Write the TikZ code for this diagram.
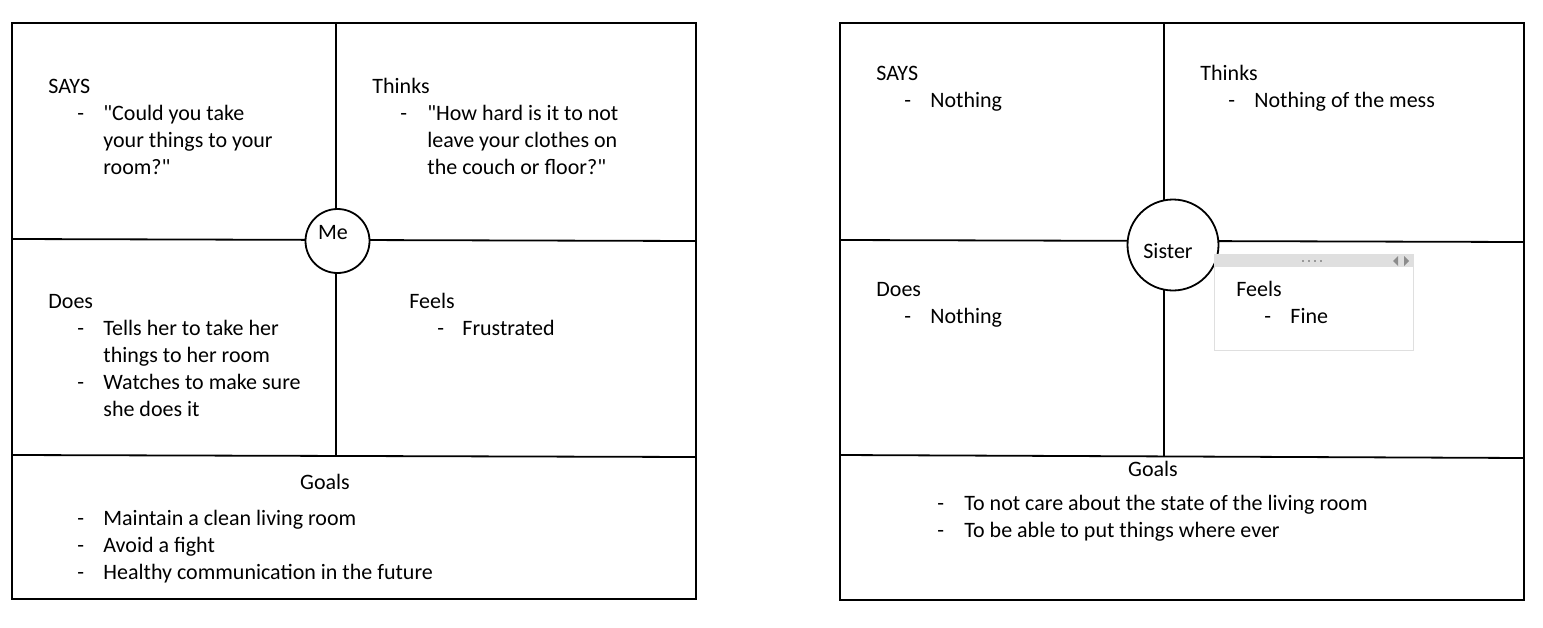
\documentclass[tikz,border=0pt]{standalone}
\usepackage{fontspec}
\setmainfont{Carlito}[Ligatures=TeXOff]
\begin{document}
\begin{tikzpicture}[
  x=0.5pt, y=-0.5pt,
  grid/.style={line width=0.9pt},
  hub/.style={circle, draw, line width=0.9pt, fill=white, inner sep=0pt},
  txt/.style={inner sep=0pt, anchor=north west, yshift=9.45pt, align=left},
  bul/.style={inner sep=0pt, anchor=base west},
  font=\fontsize{11}{13.5}\selectfont
]
\useasboundingbox (0,0) rectangle (1543,627);

% left map: Me
\draw[grid] (12,23) rectangle (696,599);
\draw[grid] (336,23) -- (336,456);
\draw[grid] (12,239) -- (696,241);
\draw[grid] (12,455) -- (696,457);
\node[hub, minimum size=32pt] (me) at (337.5,241) {};
\node (metxt) at (333,233) {Me};

\node[txt] (says0) at (48,93) {\strut SAYS};
\node[bul] at (77,120) {-};
\node[txt] (sayit0) at (103,120) {\strut"Could you take\\your things to your\\room?"};

\node[txt] (thinks0) at (372,93) {\strut Thinks};
\node[bul] at (400,120) {-};
\node[txt] (thinkit0) at (427,120) {\strut"How hard is it to not\\leave your clothes on\\the couch or floor?"};

\node[txt] (does0) at (48,308) {\strut Does};
\node[bul] at (77,335) {-};
\node[txt] (doit0) at (103,335) {\strut Tells her to take her\\things to her room};
\node[bul] at (77,389) {-};
\node[txt] (doitb0) at (103,389) {\strut Watches to make sure\\she does it};

\node[txt] (feels0) at (409,308) {\strut Feels};
\node[bul] at (437,335) {-};
\node[txt] (feelit0) at (462,335) {\strut Frustrated};

\node[inner sep=0pt, anchor=base] (goals0) at (325,489) {Goals};
\node[bul] at (77,525) {-};
\node[txt] (goala0) at (103,525) {\strut Maintain a clean living room};
\node[bul] at (77,552) {-};
\node[txt] (goalb0) at (103,552) {\strut Avoid a fight};
\node[bul] at (77,579) {-};
\node[txt] (goalc0) at (103,579) {\strut Healthy communication in the future};

% right map: Sister
\draw[grid] (840,23) rectangle (1524,600);
\draw[grid] (1164,23) -- (1164,456);
\draw[grid] (840,240) -- (1524,242);
\draw[grid] (840,455) -- (1524,458);
\node[hub, minimum size=45.5pt] (sister) at (1173,245) {};
\node (sistertxt) at (1168,251) {Sister};

\node[txt] (says1) at (876,80) {\strut SAYS};
\node[bul] at (904,107) {-};
\node[txt] (sayit1) at (930,107) {\strut Nothing};

\node[txt] (thinks1) at (1200,80) {\strut Thinks};
\node[bul] at (1228,107) {-};
\node[txt] (thinkit1) at (1254,107) {\strut Nothing of the mess};

\node[txt] (does1) at (876,296) {\strut Does};
\node[bul] at (904,323) {-};
\node[txt] (doit1) at (930,323) {\strut Nothing};

% text box frame round Feels
\draw[gray!25, fill=white] (1214,254) rectangle (1413,350);
\fill[gray!25] (1214,254) rectangle (1413,267);
\foreach \x in {1303,1309,1315,1321}
  \fill[gray!80] (\x-1,260) rectangle +(2,2);
\fill[gray!90] (1398,256) -- (1398,266) -- (1393,261) -- cycle;
\fill[gray!90] (1404,256) -- (1404,266) -- (1409,261) -- cycle;

\node[txt] (feels1) at (1236,296) {\strut Feels};
\node[bul] at (1264,323) {-};
\node[txt] (feelit1) at (1290,323) {\strut Fine};

\node[inner sep=0pt, anchor=base] (goals1) at (1153,476) {Goals};
\node[bul] at (937,510) {-};
\node[txt] (goala1) at (964,510) {\strut To not care about the state of the living room};
\node[bul] at (937,537) {-};
\node[txt] (goalb1) at (964,537) {\strut To be able to put things where ever};
\end{tikzpicture}
\end{document}
